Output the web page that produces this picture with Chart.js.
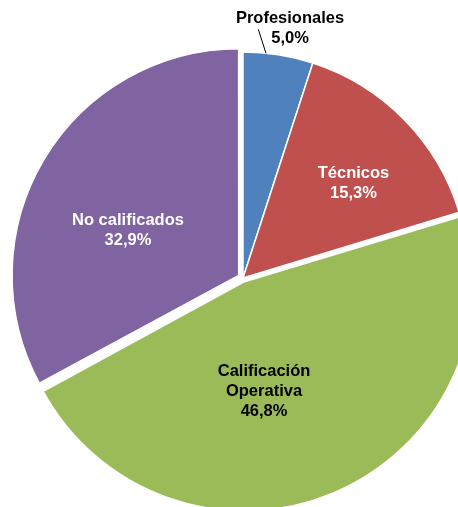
<!DOCTYPE html>
<html>
<head>
<meta charset="utf-8">
<script src="https://cdn.jsdelivr.net/npm/chart.js@4/dist/chart.umd.min.js"></script>
<style>
html, body { margin:0; padding:0; background:#fff; overflow:hidden; }
#wrap { position:relative; width:458px; height:507px; overflow:hidden; }
#c { position:absolute; left:0; top:0; }
</style>
</head>
<body>
<div id="wrap"><canvas id="c" width="486" height="556"></canvas></div>
<script>
// ---- data ----
const categories = ['Profesionales', 'Técnicos', 'Calificación Operativa', 'No calificados'];
const percentages = [5.0, 15.3, 46.8, 32.9];
const labelLines = [['Profesionales'], ['Técnicos'], ['Calificación', 'Operativa'], ['No calificados']];
const sliceColors = ['#4F81BD', '#C0504D', '#9BBB59', '#8064A2'];
const labelColors = ['#000000', '#FFFFFF', '#000000', '#FFFFFF'];
const sliceOffsets = [0, 0, 16, 20];

function fmtPct(v) { return v.toFixed(1).replace('.', ',') + '%'; }

const sliceLabels = {
  id: 'sliceLabels',
  afterDatasetsDraw(chart, args, opts) {
    const meta = chart.getDatasetMeta(0);
    const ctx = chart.ctx;
    ctx.save();
    ctx.font = opts.font;
    ctx.textAlign = 'center';
    ctx.textBaseline = 'middle';
    meta.data.forEach((arc, i) => {
      const p = arc.getProps(['x', 'y', 'outerRadius'], true);
      const a = opts.anchors[i];
      const cx = p.x + a[0] * p.outerRadius;
      const cy = p.y + a[1] * p.outerRadius;
      const lines = labelLines[i].concat([fmtPct(percentages[i])]);
      const lh = opts.lineHeight;
      const y0 = cy - (lines.length - 1) * lh / 2;
      ctx.fillStyle = labelColors[i];
      lines.forEach((t, k) => ctx.fillText(t, cx, y0 + k * lh));
      const ld = opts.leaders[i];
      if (ld) {
        ctx.strokeStyle = '#000';
        ctx.lineWidth = 1;
        ctx.beginPath();
        ctx.moveTo(p.x + ld[0] * p.outerRadius, p.y + ld[1] * p.outerRadius);
        ctx.lineTo(p.x + ld[2] * p.outerRadius, p.y + ld[3] * p.outerRadius);
        ctx.stroke();
      }
    });
    ctx.restore();
  }
};

new Chart(document.getElementById('c'), {
  type: 'pie',
  data: {
    labels: categories,
    datasets: [{
      data: percentages,
      backgroundColor: sliceColors,
      borderColor: '#FFFFFF',
      borderWidth: 1.5,
      offset: sliceOffsets,
      hoverOffset: 0
    }]
  },
  options: {
    responsive: false,
    devicePixelRatio: 1,
    animation: false,
    events: [],
    radius: 226,
    layout: { padding: 0 },
    plugins: {
      legend: { display: false },
      tooltip: { enabled: false },
      sliceLabels: {
        font: 'bold 16.5px "Liberation Sans", Arial, sans-serif',
        lineHeight: 20,
        anchors: [[0.208, -1.106], [0.489, -0.420], [0.093, 0.501], [-0.509, -0.211]],
        leaders: [[0.0677, -1.1004, 0.1018, -0.994], null, null, null]
      }
    }
  },
  plugins: [sliceLabels]
});
</script>
</body>
</html>
